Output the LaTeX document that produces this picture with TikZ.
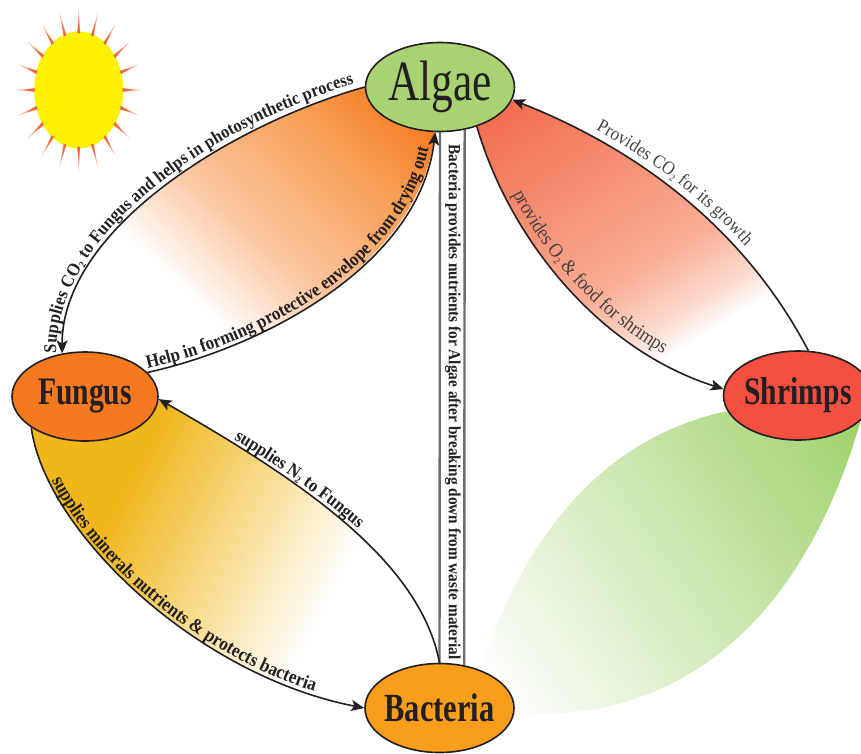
\documentclass[tikz,border=0pt]{standalone}
\usepackage{fontspec}
\setmainfont{Liberation Serif}
\newfontfamily\tallserif[FakeStretch=0.76]{Liberation Serif}
\newfontfamily\labelserif[FakeStretch=0.9]{Liberation Serif}
\usetikzlibrary{arrows.meta, calc, shapes.geometric, backgrounds, decorations.text}

\definecolor{algaegreen}{HTML}{A9D373}
\definecolor{fungusorange}{HTML}{F5791F}
\definecolor{bacteriaorange}{HTML}{F99D1C}
\definecolor{shrimpred}{HTML}{F44F40}
\definecolor{leafgreen}{HTML}{9CD166}
\definecolor{lensred}{HTML}{F26D4F}
\definecolor{redmid}{HTML}{F9AE95}
\definecolor{redpale}{HTML}{FCDCD0}
\definecolor{orangemid}{HTML}{F89C51}
\definecolor{orangepale}{HTML}{FBC8A2}
\definecolor{lensyellow}{HTML}{F0B71C}
\definecolor{raycolor}{HTML}{F0683A}
\definecolor{raypale}{HTML}{F9B296}
\definecolor{inkdark}{HTML}{231F20}

\newcommand{\subtwo}{\raisebox{-2.5pt}{\fontsize{10}{10}\selectfont 2}}
\newcommand{\lblbold}[1]{\labelserif\bfseries\fontsize{#1}{#1}\selectfont\color{inkdark}}
\newcommand{\lblplain}[1]{\labelserif\fontsize{#1}{#1}\selectfont\color{inkdark!85}}

\pgfdeclarehorizontalshading{orangefade}{100bp}{color(0bp)=(white); color(25bp)=(white); color(40bp)=(orangepale); color(62bp)=(orangemid); color(75bp)=(fungusorange); color(100bp)=(fungusorange)}
\pgfdeclarehorizontalshading{redfade}{100bp}{color(0bp)=(white); color(25bp)=(white); color(30bp)=(redpale); color(40bp)=(redmid); color(75bp)=(lensred); color(100bp)=(lensred)}
\pgfdeclarehorizontalshading{yellowfade}{100bp}{color(0bp)=(white); color(25bp)=(white); color(59bp)=(lensyellow); color(100bp)=(lensyellow)}

\tikzset{
  organism/.style={ellipse, draw=inkdark, line width=1.6pt, inner sep=-16pt, minimum width=149pt, minimum height=89pt, text=inkdark},
  flow/.style={draw=inkdark, line width=1.6pt},
  flowtip/.style={flow, -{Stealth[length=13pt, width=11pt, inset=3pt]}},
  barline/.style={draw=gray!85!black, line width=2.4pt},
  curvedlabel/.style={decorate, decoration={text along path, raise=#1}},
  curvedlabel/.default=3pt,
}

\begin{document}
\begin{tikzpicture}[x=1pt, y=-1pt]
\useasboundingbox (0,0) rectangle (861,753);

% Sun
\node[ellipse, fill=yellow, minimum width=89pt, minimum height=117pt, inner sep=0pt] (sun) at (78.7,90) {};
\foreach \ang in {0,18,...,342} {
  \fill[raypale] ($(sun)+({44*cos(\ang-1.8)},{-57*sin(\ang-1.8)})$) -- ($(sun)+({63*cos(\ang)},{-82*sin(\ang)})$) -- ($(sun)+({44*cos(\ang+1.8)},{-57*sin(\ang+1.8)})$) -- cycle;
  \fill[raycolor] ($(sun)+({44*cos(\ang-1.8)},{-57*sin(\ang-1.8)})$) -- ($(sun)+({55*cos(\ang)},{-71.5*sin(\ang)})$) -- ($(sun)+({44*cos(\ang+1.8)},{-57*sin(\ang+1.8)})$) -- cycle;
}

% Organisms
\node[organism, fill=algaegreen, font=\tallserif\fontsize{57}{57}\selectfont] (algae) at (440,87) {Algae};
\node[organism, fill=fungusorange, minimum width=146pt, font=\tallserif\bfseries\fontsize{39}{39}\selectfont] (fungus) at (85,396.5) {Fungus};
\node[organism, fill=bacteriaorange, font=\tallserif\bfseries\fontsize{40}{40}\selectfont] (bacteria) at (439.5,708) {Bacteria};
\node[organism, fill=shrimpred, font=\tallserif\bfseries\fontsize{39}{39}\selectfont] (shrimps) at (798,395.5) {Shrimps};

% Lens fills
\begin{pgfonlayer}{background}
\begin{scope}
  \clip (algae.west) .. controls (230,125) and (62,230) .. (fungus.118) -- (fungus.21) .. controls (270,345) and (420,262) .. (algae.264) -- (algae.center) -- cycle;
  \shade[shading=orangefade, transform canvas={shift={(167,277)}, rotate=47}] (0,-500) rectangle (295,500);
\end{scope}
\begin{scope}
  \clip (shrimps.77) .. controls (745,230) and (640,150) .. (algae.350) -- (algae.313) .. controls (510,240) and (600,350) .. (shrimps.175) -- (shrimps.center) -- cycle;
  \shade[shading=redfade, transform canvas={shift={(716,328)}, rotate=121.5}] (0,-500) rectangle (300,500);
\end{scope}
\begin{scope}
  \clip (bacteria.north) .. controls (420,560) and (300,480) .. (fungus.358) -- (fungus.210) .. controls (45,530) and (195,675) .. (bacteria.west) -- (bacteria.center) -- cycle;
  \shade[shading=yellowfade, transform canvas={shift={(330,603)}, rotate=153}] (0,-500) rectangle (344,500);
\end{scope}
\begin{scope}
  \clip (468,708) .. controls (515,540) and (600,440) .. (723,412) -- (shrimps.center) -- (861,420) .. controls (785,680) and (620,735) .. (468,708) -- cycle;
  \shade[left color=white, right color=leafgreen, transform canvas={shift={(490,690)}, rotate=35}] (0,-500) rectangle (470,500);
\end{scope}
% Bar between Algae and Bacteria
\draw[barline] (algae.south) -- (bacteria.north);
\draw[barline] (algae.300) -- (bacteria.60);
\end{pgfonlayer}

% Connectors
\draw[flowtip] (algae.west) .. controls (230,125) and (62,230) .. (fungus.118);
\draw[flowtip] (fungus.21) .. controls (270,345) and (420,262) .. (algae.264);
\draw[flowtip] (shrimps.77) .. controls (745,230) and (640,150) .. (algae.350);
\draw[flowtip] (algae.313) .. controls (510,240) and (600,350) .. (shrimps.175);
\draw[flowtip] (bacteria.north) .. controls (420,560) and (300,480) .. (fungus.358);
\draw[flowtip] (fungus.210) .. controls (45,530) and (195,675) .. (bacteria.west);

% Labels
\path[curvedlabel=6pt, decoration={text align={left indent=0pt}, text={|\lblbold{18.2}|Supplies CO{\subtwo} to Fungus and helps in photosynthetic process}}] (fungus.118) .. controls (62,230) and (230,125) .. (algae.west);
\path[curvedlabel=4pt, decoration={text align={left indent=1pt}, text={|\lblbold{18.8}|Help in forming protective envelope from drying out}}] (fungus.21) .. controls (270,345) and (420,262) .. (algae.264);
\path[curvedlabel=8pt, decoration={text align={left indent=88pt}, text={|\lblplain{18.8}|Provides CO{\subtwo} for its growth}}] (algae.350) .. controls (640,150) and (745,230) .. (shrimps.77);
\path[curvedlabel=8pt, decoration={text align={left indent=77pt}, text={|\lblplain{20}|provides O{\subtwo} {\&} food for shrimps}}] (algae.313) .. controls (510,240) and (600,350) .. (shrimps.175);
\path[curvedlabel=4pt, decoration={text align={left indent=85pt}, text={|\lblbold{18.5}|supplies N{\subtwo} to Fungus}}] (fungus.358) .. controls (300,480) and (420,560) .. (bacteria.north);
\path[curvedlabel, decoration={text align={left indent=57pt}, text={|\lblbold{19.2}|supplies minerals nutrients {\&} protects bacteria}}] (fungus.210) .. controls (45,530) and (195,675) .. (bacteria.west);
\node[rotate=-90, font=\labelserif\bfseries\fontsize{17}{17}\selectfont, text=inkdark, inner sep=0pt] (barlabel) at (453,402) {Bacteria provides nutrients for Algae after breaking down from waste material};
\end{tikzpicture}
\end{document}
